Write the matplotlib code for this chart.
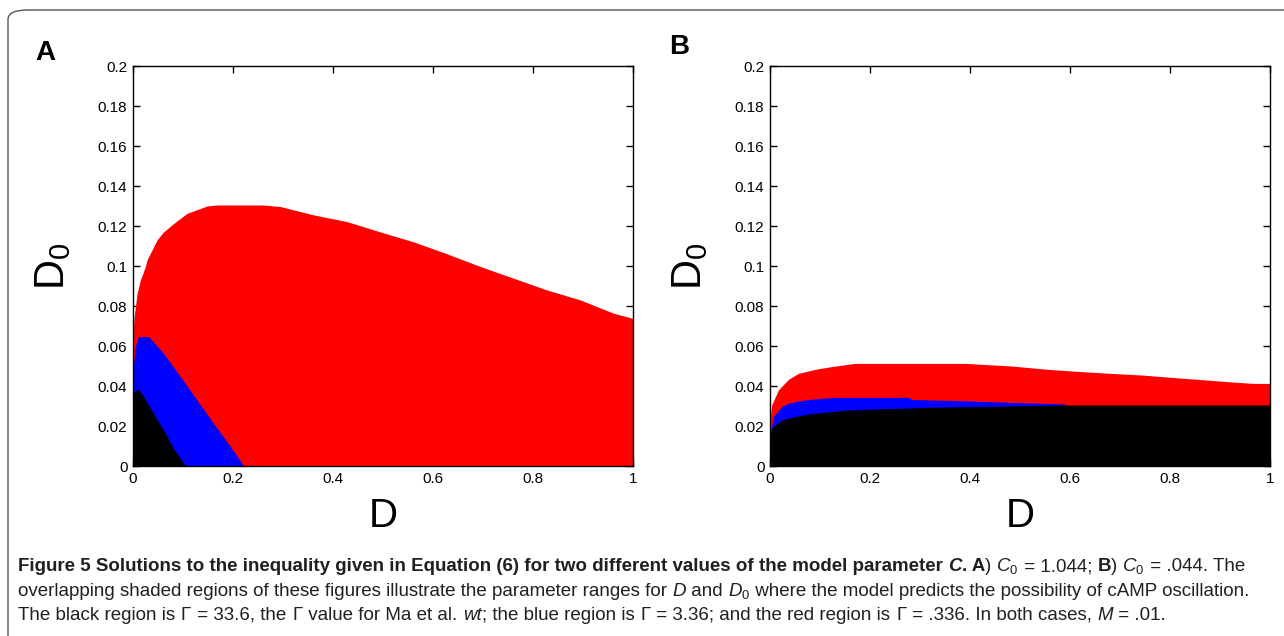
import matplotlib
matplotlib.use("Agg")
import matplotlib.pyplot as plt
from matplotlib.patches import FancyBboxPatch
import numpy as np

# ---------------- data ----------------
# Panel A  (C0 = 1.044)
a_red_D  = [0.0, 0.002, 0.008, 0.0147, 0.0247, 0.028, 0.048, 0.061, 0.0814, 0.108, 0.148, 0.168,
            0.261, 0.295, 0.362, 0.428, 0.495, 0.562, 0.629, 0.695, 0.762, 0.828, 0.895, 0.962, 1.0]
a_red_D0 = [0.066, 0.074, 0.086, 0.093, 0.0997, 0.103, 0.113, 0.117, 0.1213, 0.1263, 0.130, 0.1305,
            0.1305, 0.1297, 0.1255, 0.1222, 0.117, 0.112, 0.106, 0.0997, 0.0938, 0.088, 0.083, 0.0763, 0.0738]

a_blue_D  = [0.0, 0.0047, 0.011, 0.031, 0.041, 0.061, 0.0947, 0.128, 0.161, 0.195, 0.2215]
a_blue_D0 = [0.048, 0.0597, 0.0647, 0.0647, 0.062, 0.0563, 0.0447, 0.033, 0.0213, 0.0097, 0.0]

a_black_D  = [0.0, 0.0047, 0.0113, 0.0213, 0.041, 0.061, 0.081, 0.105]
a_black_D0 = [0.0363, 0.038, 0.0383, 0.0347, 0.0263, 0.018, 0.0088, 0.0]

# Panel B  (C0 = .044)
b_red_D  = [0.0, 0.0033, 0.0167, 0.0367, 0.0567, 0.09, 0.123, 0.17, 0.39, 0.483, 0.557, 0.623,
            0.683, 0.743, 0.803, 0.857, 0.913, 0.967, 1.0]
b_red_D0 = [0.023, 0.0305, 0.038, 0.0433, 0.0463, 0.0483, 0.0497, 0.0513, 0.0513, 0.050, 0.0483, 0.0472,
            0.0463, 0.0455, 0.0443, 0.0433, 0.0422, 0.0413, 0.0413]

b_blue_D  = [0.0, 0.0067, 0.0233, 0.0367, 0.0567, 0.077, 0.13, 0.277, 0.283, 0.403, 0.497, 0.59]
b_blue_D0 = [0.0147, 0.0247, 0.0297, 0.0313, 0.0325, 0.0333, 0.0343, 0.0343, 0.0333, 0.0325, 0.0317, 0.031]

b_black_D  = [0.0, 0.0033, 0.01, 0.0233, 0.0433, 0.0567, 0.077, 0.123, 0.157, 0.21, 0.31, 0.523, 0.59, 1.0]
b_black_D0 = [0.0147, 0.0188, 0.0205, 0.023, 0.0243, 0.025, 0.026, 0.0272, 0.028, 0.0285, 0.0293, 0.0302, 0.0305, 0.0305]

x_ticks = [0, 0.2, 0.4, 0.6, 0.8, 1.0]
x_tick_labels = ["0", "0.2", "0.4", "0.6", "0.8", "1"]
y_ticks = [0, 0.02, 0.04, 0.06, 0.08, 0.1, 0.12, 0.14, 0.16, 0.18, 0.2]
y_tick_labels = ["0", "0.02", "0.04", "0.06", "0.08", "0.1", "0.12", "0.14", "0.16", "0.18", "0.2"]

# ---------------- figure ----------------
W, H = 1284, 636
plt.rcParams['font.family'] = ['Liberation Sans', 'DejaVu Sans']
plt.rcParams['mathtext.fontset'] = 'custom'
plt.rcParams['mathtext.rm'] = 'Liberation Sans'
plt.rcParams['mathtext.it'] = 'Liberation Sans:italic'
plt.rcParams['mathtext.bf'] = 'Liberation Sans:bold'
fig = plt.figure(figsize=(W / 100, H / 100), dpi=100)

# outer rounded box
box = FancyBboxPatch((8 / W, -0.05), 1.2, (H - 10) / H + 0.05,
                     boxstyle="round,pad=0,rounding_size=0.015",
                     transform=fig.transFigure, fill=False, edgecolor='#555555', lw=1.0)
fig.patches.append(box)


def make_axes(left_px, panel_letter, letter_xy, red, blue, black):
    ax = fig.add_axes([left_px / W, (H - 466) / H, 500 / W, 400 / H])
    for (Dx, Dy), col in zip([red, blue, black], ['#ff0000', '#0000ff', '#000000']):
        ax.fill_between(Dx, 0, Dy, color=col, lw=0, zorder=2)
    ax.set_xlim(0, 1)
    ax.set_ylim(0, 0.2)
    ax.set_xticks(x_ticks)
    ax.set_xticklabels(x_tick_labels)
    ax.set_yticks(y_ticks)
    ax.set_yticklabels(y_tick_labels)
    ax.tick_params(direction='in', top=True, right=True, length=5, width=1,
                   labelsize=11, pad=4)
    for s in ax.spines.values():
        s.set_linewidth(1.0)
        s.set_zorder(5)
    ax.set_xlabel("D", fontsize=29, labelpad=8)
    ax.set_ylabel("D$_0$", fontsize=30, labelpad=18)
    fig.text(letter_xy[0] / W, 1 - letter_xy[1] / H, panel_letter, fontsize=20,
             fontweight='bold', ha='left', va='baseline')
    return ax


make_axes(133, "A", (35, 60), (a_red_D, a_red_D0), (a_blue_D, a_blue_D0), (a_black_D, a_black_D0))
make_axes(770, "B", (669, 54), (b_red_D, b_red_D0), (b_blue_D, b_blue_D0), (b_black_D, b_black_D0))

# ---------------- caption ----------------
CAP = ['Liberation Sans', 'DejaVu Sans']
N, B, I, BI = ('normal', 'normal'), ('bold', 'normal'), ('normal', 'italic'), ('bold', 'italic')

lines = [
    [("Figure 5 Solutions to the inequality given in Equation (6) for two different values of the model parameter ", B),
     ("C", BI), (". A", B), (") ", N), ("$C_0$", N), (" = 1.044; ", N), ("B", B), (") ", N), ("$C_0$", N),
     (" = .044. The", N)],
    [("overlapping shaded regions of these figures illustrate the parameter ranges for ", N), ("D", I),
     (" and ", N), ("$D_0$", N), (" where the model predicts the possibility of cAMP oscillation.", N)],
    [("The black region is ", N), ("$\\Gamma$", N), (" = 33.6, the ", N), ("$\\Gamma$", N),
     (" value for Ma et al. ", N), ("wt", I), ("; the blue region is ", N), ("$\\Gamma$", N),
     (" = 3.36; and the red region is ", N), ("$\\Gamma$", N), (" = .336. In both cases, ", N),
     ("M", I), (" = .01.", N)],
]
baselines = [571, 596, 620]
renderer = fig.canvas.get_renderer()


def line_width(segs, size):
    total = 0
    tmp = []
    for txt, (wt, st) in segs:
        t = fig.text(0, 0, txt, family=CAP, fontweight=wt, fontstyle=st, fontsize=size)
        total += t.get_window_extent(renderer=renderer).width
        tmp.append(t)
    for t in tmp:
        t.remove()
    return total


# fit caption size so the full second line spans the box width
base = 10.0
cap_size = base * (1259 / line_width(lines[1], base))
cap_size = min(cap_size, 13.5)

for segs, yb in zip(lines, baselines):
    x = 18
    for txt, (wt, st) in segs:
        t = fig.text(x / W, 1 - yb / H, txt, family=CAP, fontweight=wt, fontstyle=st,
                     fontsize=cap_size, ha='left', va='baseline', color='#231f20')
        x += t.get_window_extent(renderer=renderer).width

fig.savefig("out.png", dpi=100)
